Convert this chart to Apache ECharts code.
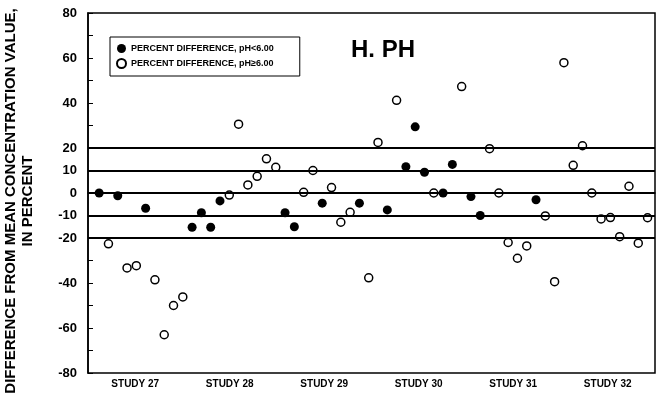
<!DOCTYPE html>
<html>
<head>
<meta charset="utf-8">
<script src="https://cdn.jsdelivr.net/npm/echarts@6/dist/echarts.min.js"></script>
<style>
  html, body { margin: 0; padding: 0; background: #fff; }
  #chart { width: 658px; height: 406px; }
</style>
</head>
<body>
<div id="chart"></div>
<script>
// study groups along the bottom
const studies = ['STUDY 27', 'STUDY 28', 'STUDY 29', 'STUDY 30', 'STUDY 31', 'STUDY 32']

// one sample per position, 60 positions; null = the other series has the point
const phLow = [
  0, null, -1.2, null, null, -6.8, null, null, null, null,
  -15.2, -8.8, -15.2, -3.5, null, null, null, null, null, null,
  -8.8, -15, null, null, -4.5, null, null, null, -4.5, null,
  null, -7.5, null, 11.7, 29.4, 9.2, null, 0, 12.7, null,
  -1.6, -10, null, null, null, null, null, -3, null, null,
  null, null, null, null, null, null, null, null, null, null
]
const phHigh = [
  null, -22.6, null, -33.3, -32.3, null, -38.6, -63, -50, -46.2,
  null, null, null, null, -0.9, 30.6, 3.6, 7.4, 15.2, 11.4,
  null, null, 0.3, 10, null, 2.4, -13, -8.6, null, -37.7,
  22.5, null, 41.2, null, null, null, 0, null, null, 47.3,
  null, null, 19.7, 0, -22, -29, -23.5, null, -10.2, -39.4,
  57.9, 12.3, 21, 0, -11.5, -10.9, -19.4, 3, -22.3, -11
]

// horizontal reference lines and labelled y ticks
const refLines = [20, 10, 0, -10, -20]
const yTickLabels = [80, 60, 40, 20, 10, 0, -10, -20, -40, -60, -80]

const FONT = 'Liberation Sans, Arial, sans-serif'

function toPoints(arr) {
  const out = []
  arr.forEach((v, i) => { if (v !== null) out.push([i, v]) })
  return out
}

const chart = echarts.init(document.getElementById('chart'))

const option = {
  animation: false,
  backgroundColor: '#fff',
  textStyle: { fontFamily: FONT, color: '#000' },
  title: {
    text: 'H. PH',
    left: 346,
    top: 33,
    textStyle: { fontFamily: FONT, fontSize: 24, fontWeight: 'bold', color: '#000' }
  },
  legend: {
    orient: 'vertical',
    left: 110,
    top: 37,
    itemWidth: 9,
    itemHeight: 9,
    itemGap: 5,
    padding: [7, 26, 7, 6],
    borderColor: '#000',
    borderWidth: 1,
    icon: 'circle',
    textStyle: { fontFamily: FONT, fontSize: 9, fontWeight: 'bold', color: '#000' },
    data: ['PERCENT DIFFERENCE, pH<6.00', 'PERCENT DIFFERENCE, pH≥6.00']
  },
  grid: {
    left: 88,
    right: 3,
    top: 13,
    bottom: 33,
    outerBoundsMode: 'none',
    containLabel: false,
    show: true,
    borderColor: '#000',
    borderWidth: 1.5
  },
  xAxis: [
    {
      type: 'category',
      data: studies,
      boundaryGap: true,
      axisLine: { lineStyle: { color: '#000', width: 1.5 } },
      axisTick: { inside: true, length: 4, lineStyle: { color: '#000' } },
      axisLabel: { fontFamily: FONT, fontSize: 10, fontWeight: 'bold', color: '#000', margin: 6 },
      splitLine: { show: false }
    },
    {
      type: 'value',
      min: -1.2,
      max: 59.8,
      show: false,
      splitLine: { show: false }
    }
  ],
  yAxis: {
    type: 'value',
    min: -80,
    max: 80,
    interval: 10,
    name: 'DIFFERENCE FROM MEAN CONCENTRATION VALUE,\nIN PERCENT',
    nameLocation: 'middle',
    nameRotate: 90,
    nameGap: 52,
    nameTextStyle: {
      fontFamily: FONT, fontSize: 15, fontWeight: 'bold', color: '#000', lineHeight: 17,
      padding: [0, 16, 0, 0]
    },
    axisLine: { show: true, onZero: false, lineStyle: { color: '#000', width: 1.5 } },
    axisTick: { show: true, inside: true, length: 5, lineStyle: { color: '#000' } },
    axisLabel: {
      fontFamily: FONT,
      fontSize: 13,
      fontWeight: 'bold',
      color: '#000',
      margin: 11,
      formatter: v => (yTickLabels.includes(v) ? String(v) : '')
    },
    splitLine: { show: false }
  },
  series: [
    {
      name: 'PERCENT DIFFERENCE, pH<6.00',
      type: 'scatter',
      xAxisIndex: 1,
      symbol: 'circle',
      symbolSize: 9,
      itemStyle: { color: '#000', opacity: 1 },
      data: toPoints(phLow),
      z: 3,
      markLine: {
        silent: true,
        symbol: 'none',
        label: { show: false },
        lineStyle: { color: '#000', width: 2, type: 'solid' },
        data: refLines.map(v => ({ yAxis: v }))
      }
    },
    {
      name: 'PERCENT DIFFERENCE, pH≥6.00',
      type: 'scatter',
      xAxisIndex: 1,
      symbol: 'circle',
      symbolSize: 8,
      itemStyle: { color: '#fff', borderColor: '#000', borderWidth: 1.5, opacity: 1 },
      data: toPoints(phHigh),
      z: 4
    }
  ]
}

chart.setOption(option)
</script>
</body>
</html>
